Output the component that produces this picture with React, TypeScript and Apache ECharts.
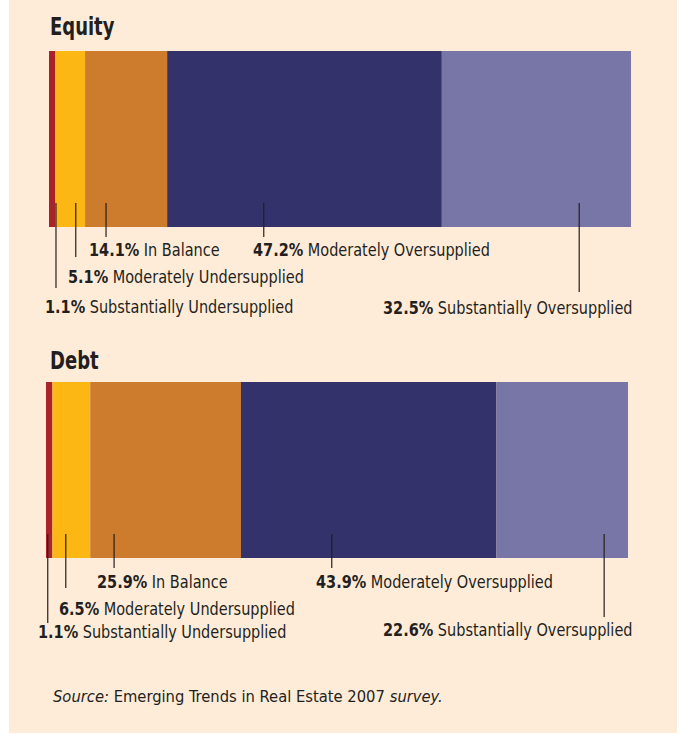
import React, { useEffect, useRef } from "react";
import * as echarts from "echarts";

// ---------- data ----------
const panels = ["Equity", "Debt"];
const segmentNames = [
  "Substantially Undersupplied",
  "Moderately Undersupplied",
  "In Balance",
  "Moderately Oversupplied",
  "Substantially Oversupplied",
];
const equityValues = [1.1, 5.1, 14.1, 47.2, 32.5];
const debtValues = [1.1, 6.5, 25.9, 43.9, 22.6];
const sourcePrefix = "Source:";
const sourceBody = " Emerging Trends in Real Estate 2007 ";
const sourceSuffix = "survey.";

// ---------- style / layout ----------
const segmentColors = ["#A8232A", "#FDB715", "#CD7B2D", "#33326A", "#7876A6"];
const TEXT = "#231F20";
const FONT =
  '"Liberation Sans Narrow","DejaVu Sans Condensed","Roboto Condensed","Liberation Sans",sans-serif';
const grids = [
  { left: 49, top: 51, width: 582, height: 176 },
  { left: 46, top: 382, width: 582, height: 176 },
];
const titlePos = [
  { x: 50, y: 26 },
  { x: 50, y: 360 },
];
// leader line position on the value axis, end below bar bottom, label x, label y below bar bottom
const leaderAt = [
  [1.2, 4.6, 9.8, 36.9, 91.1],
  [0.3, 3.4, 11.7, 49.1, 95.9],
];
const leaderEnd = [
  [61, 30, 10, 10, 65],
  [65, 30, 10, 10, 59],
];
const labelX = [
  [45, 68, 89, 253, 383],
  [38, 59, 97, 316, 383],
];
const labelDy = [
  [80, 50, 23, 23, 81],
  [74, 51, 24, 24, 72],
];

export default function App() {
  const ref = useRef<HTMLDivElement>(null);
  useEffect(() => {
    if (!ref.current) return;
    const chart = echarts.init(ref.current, undefined, { renderer: "svg" });
    const values = [equityValues, debtValues];
    const series: any[] = [];
    values.forEach((vals, p) => {
      vals.forEach((v, i) => {
        series.push({
          type: "bar",
          name: segmentNames[i],
          stack: "s" + p,
          xAxisIndex: p,
          yAxisIndex: p,
          barWidth: "100%",
          data: [v],
          itemStyle: { color: segmentColors[i] },
          silent: true,
        });
      });
    });
    chart.setOption({
      animation: false,
      grid: grids.map((g) => ({ ...g, containLabel: false })),
      xAxis: grids.map((_, p) => ({
        type: "value",
        gridIndex: p,
        min: 0,
        max: 100,
        show: false,
      })),
      yAxis: grids.map((_, p) => ({
        type: "category",
        gridIndex: p,
        data: [panels[p]],
        show: false,
      })),
      series,
    });

    const graphics: any[] = [];
    panels.forEach((name, p) => {
      graphics.push({
        type: "text",
        x: titlePos[p].x,
        y: titlePos[p].y,
        scaleX: 0.8,
        style: {
          text: name,
          fill: TEXT,
          font: `bold 25px ${FONT}`,
          verticalAlign: "middle",
        },
      });
      const bottom = grids[p].top + grids[p].height;
      const vals = values[p];
      vals.forEach((v, i) => {
        const lx = chart.convertToPixel({ xAxisIndex: p }, leaderAt[p][i]) as number;
        graphics.push({
          type: "line",
          shape: { x1: lx, y1: bottom - 24, x2: lx, y2: bottom + leaderEnd[p][i] },
          style: { stroke: TEXT, lineWidth: 1.2 },
          z: 10,
        });
        graphics.push({
          type: "text",
          x: labelX[p][i],
          y: bottom + labelDy[p][i],
          scaleX: 0.947,
          style: {
            text: `{b|${v.toFixed(1)}%}{n| ${segmentNames[i]}}`,
            verticalAlign: "middle",
            rich: {
              b: { font: `bold 17px ${FONT}`, fill: TEXT },
              n: { font: `17px ${FONT}`, fill: TEXT },
            },
          },
          z: 10,
        });
      });
    });
    graphics.push({
      type: "text",
      x: 53,
      y: 697,
      scaleX: 1.025,
      style: {
        text: `{i|${sourcePrefix}}{n|${sourceBody}}{i|${sourceSuffix}}`,
        verticalAlign: "middle",
        rich: {
          i: { font: `italic 16px ${FONT}`, fill: TEXT },
          n: { font: `16px ${FONT}`, fill: TEXT },
        },
      },
    });
    chart.setOption({ graphic: graphics });
    return () => chart.dispose();
  }, []);
  return (
    <div
      style={{
        position: "absolute",
        left: 0,
        top: 0,
        width: 680,
        height: 734,
        background: "#ffffff",
      }}
    >
      <div
        style={{
          position: "absolute",
          left: 9,
          top: 0,
          width: 668,
          height: 733,
          background: "#FEECD9",
        }}
      />
      <div
        ref={ref}
        style={{ position: "absolute", left: 0, top: 0, width: 680, height: 734 }}
      />
    </div>
  );
}
